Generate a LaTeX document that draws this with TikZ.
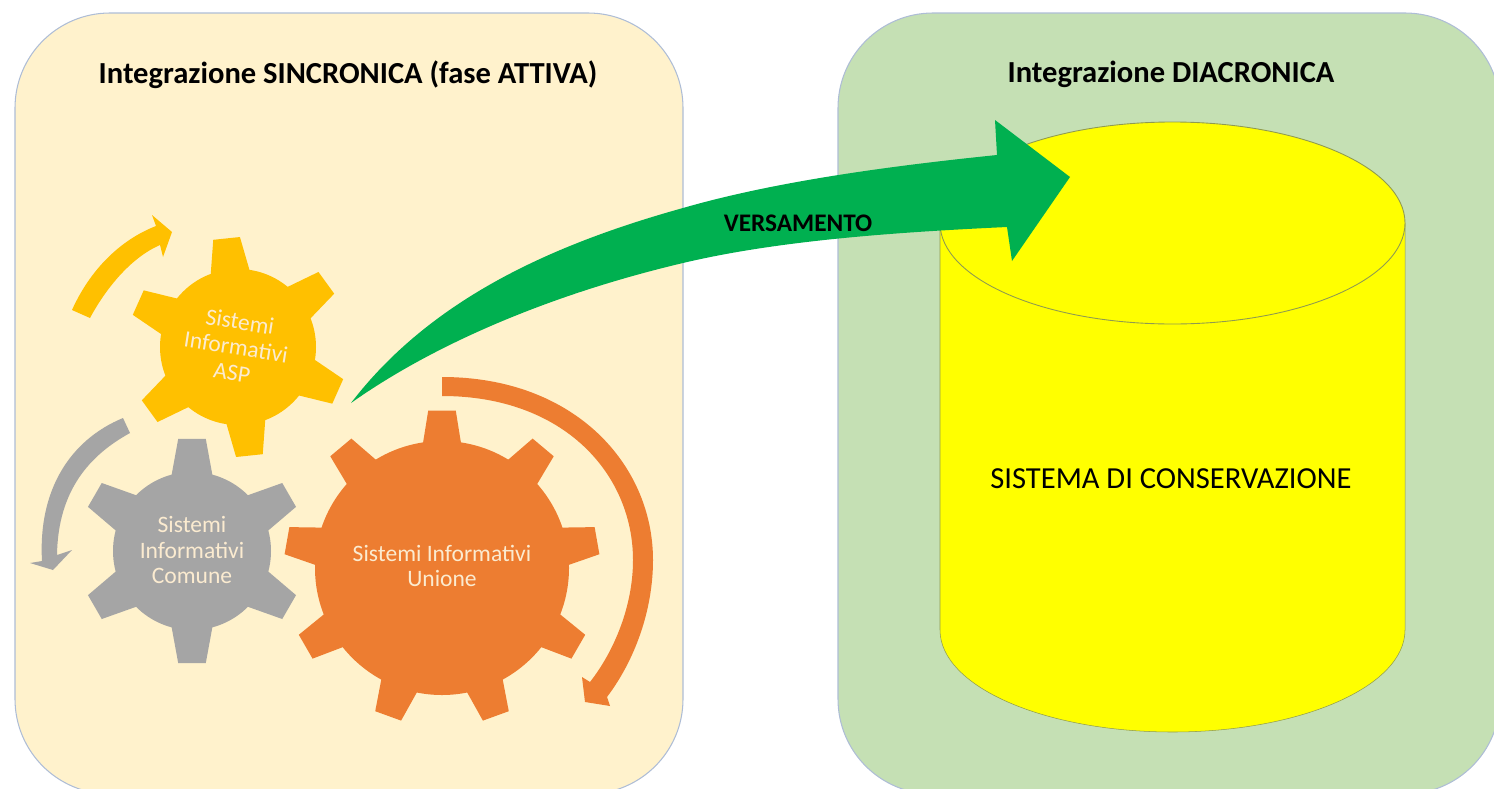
\documentclass[tikz,border=0pt]{standalone}
\usepackage{fontspec}
\setmainfont{Carlito}
\usetikzlibrary{positioning}

\definecolor{creamfill}{HTML}{FFF2CC}
\definecolor{greenfill}{HTML}{C5E0B4}
\definecolor{boxline}{HTML}{AEBDD6}
\definecolor{goldgear}{HTML}{FFC000}
\definecolor{greygear}{HTML}{A5A5A5}
\definecolor{orangegear}{HTML}{ED7D31}
\definecolor{arrowgreen}{HTML}{00B050}
\definecolor{gearlabel}{HTML}{FBEBD0}
\definecolor{cylfill}{HTML}{FFFF00}
\definecolor{cylline}{HTML}{8F9A50}

% centre, body radius, tip radius, half angles, teeth, colour
\newcommand{\gearshape}[7]{
    \fill[#7] (#1) circle[radius=#2];
    \foreach \a in {#6}
        \fill[#7,shift={(#1)}] (-\a-#4:#2-3) -- (-\a-#5:#3) -- (-\a+#5:#3) -- (-\a+#4:#2-3) -- cycle;
}

\begin{document}
\begin{tikzpicture}[x=0.02cm,y=-0.02cm,
    panel/.style={draw=boxline,line width=0.6pt,rounded corners=1.9cm},
    title/.style={font=\fontsize{17.4}{20}\selectfont\bfseries,inner sep=0pt},
    gearlab/.style={font=\fontsize{13.4}{14.7}\selectfont,text=gearlabel,align=center,inner sep=0pt}]
    \useasboundingbox (0,0) rectangle (1494,788);
    \clip (0,0) rectangle (1494,788);

    \draw[panel,fill=creamfill] (15,13) rectangle (683,794);
    \draw[panel,fill=greenfill] (838,13) rectangle (1500,794);
    \node[title] (sinc) at (348,75) {Integrazione SINCRONICA (fase ATTIVA)};
    \node[title] (diac) at (1171,74) {Integrazione DIACRONICA};

    % cylinder
    \draw[cylline,line width=0.3pt,fill=cylfill] (940,223) -- (940,630) arc[start angle=180,end angle=0,x radius=232.5,y radius=102] -- (1405,223) -- cycle;
    \draw[cylline,line width=0.5pt,fill=cylfill] (1172.5,223) circle[x radius=232.5,y radius=101];
    \node[font=\fontsize{17.4}{20}\selectfont,inner sep=0pt] (cons) at (1171,479) {SISTEMA DI CONSERVAZIONE};

    % gears
    \gearshape{238,347}{78}{110}{15.5}{7}{96,36,-24,-84,-144,-204}{goldgear}
    \gearshape{192,551}{79}{113}{16}{7}{90,30,-30,-90,-150,-210}{greygear}
    \gearshape{442,568}{127}{158}{9}{5}{90,50,10,-30,-70,-110,-150,-190,-230}{orangegear}
    \node[gearlab,rotate=-9] (asp) at (236,347) {Sistemi\\Informativi\\ASP};
    \node[gearlab] (comune) at (192,550) {Sistemi\\Informativi\\Comune};
    \node[gearlab] (unione) at (442,566) {Sistemi Informativi\\Unione};

    % turning arrows
    \fill[goldgear] (72,310) .. controls (90,270) and (120,240) .. (156,226) -- (152,215) -- (172,232) -- (163,257) -- (160,245)
        .. controls (130,258) and (105,290) .. (90,318) -- cycle;
    \fill[greygear] (123,418) .. controls (70,440) and (38,490) .. (42,561) -- (30,563) -- (53,570) -- (72,550) -- (57,555)
        .. controls (58,490) and (90,455) .. (130,433) -- cycle;
    \fill[orangegear] (442,377) .. controls (575,377) and (653,465) .. (653,560) .. controls (653,610) and (635,660) .. (607,697)
        -- (610,706) -- (585,702) -- (582,677) -- (590,682)
        .. controls (615,650) and (633,605) .. (633,560) .. controls (633,475) and (565,396) .. (442,396) -- cycle;

    % big arrow
    \fill[arrowgreen] (351,403) .. controls (430,300) and (550,245) .. (683,208) .. controls (780,180) and (900,165) .. (997,155)
        -- (995,120) -- (1070,177) -- (1012,261) -- (1007,227)
        .. controls (900,232) and (780,240) .. (683,263) .. controls (560,292) and (440,340) .. (351,403) -- cycle;
    \node[font=\fontsize{14.4}{16}\selectfont\bfseries,inner sep=0pt] (vers) at (798,223) {VERSAMENTO};
\end{tikzpicture}
\end{document}
